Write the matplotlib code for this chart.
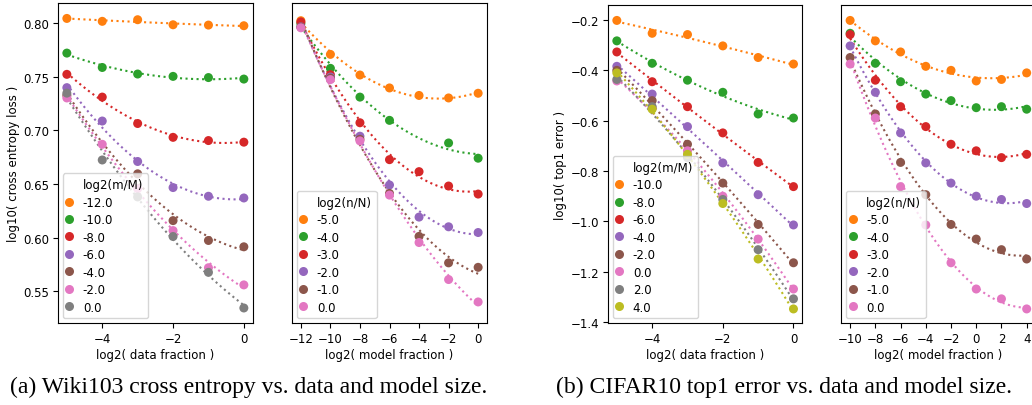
import numpy as np
import matplotlib
matplotlib.use("Agg")
import matplotlib.pyplot as plt
from matplotlib.lines import Line2D

# ---------------- data ----------------
# Wiki103: rows = log2(m/M) model fraction, cols = log2(n/N) data fraction
wiki_model = [-12, -10, -8, -6, -4, -2, 0]
wiki_data = [-5, -4, -3, -2, -1, 0]
wiki_loss = np.array([
    [0.8043, 0.8016, 0.8031, 0.7984, 0.7981, 0.7975],
    [0.7720, 0.7586, 0.7525, 0.7503, 0.7492, 0.7478],
    [0.7522, 0.7310, 0.7064, 0.6935, 0.6905, 0.6890],
    [0.7398, 0.7087, 0.6710, 0.6467, 0.6386, 0.6370],
    [0.7326, np.nan, 0.6595, 0.6159, 0.5974, 0.5915],
    [0.7302, 0.6870, 0.6457, 0.6066, 0.5720, 0.5560],
    [0.7347, 0.6724, 0.6380, 0.6011, 0.5677, 0.5345],
])

# CIFAR10: rows = log2(m/M) model fraction, cols = log2(n/N) data fraction
cifar_model = [-10, -8, -6, -4, -2, 0, 2, 4]
cifar_data = [-5, -4, -3, -2, -1, 0]
cifar_err = np.array([
    [-0.203, -0.254, -0.259, -0.304, -0.350, -0.376],
    [-0.284, -0.373, -0.440, -0.488, -0.574, -0.590],
    [-0.328, -0.446, -0.545, -0.649, -0.766, -0.862],
    [-0.385, -0.495, -0.624, -0.768, -0.894, -1.014],
    [-0.401, -0.521, -0.694, -0.848, -1.012, -1.164],
    [-0.443, -0.549, -0.720, -0.900, -1.070, -1.268],
    [-0.437, -0.545, -0.747, -0.913, -1.112, -1.307],
    [-0.411, -0.555, -0.734, -0.929, -1.149, -1.347],
])

colors = ["#ff7f0e", "#2ca02c", "#d62728", "#9467bd", "#8c564b",
          "#e377c2", "#7f7f7f", "#bcbd22"]

plt.rcParams['font.family'] = ['DejaVu Sans']
FS = 8.5

W, H = 1032, 406
fig = plt.figure(figsize=(W / 100, H / 100), dpi=100)


def ax_at(l, r, t, b):
    return fig.add_axes([l / W, (H - b) / H, (r - l) / W, (b - t) / H])


ax1 = ax_at(58, 252.7, 4.3, 324)
ax2 = ax_at(292, 487, 4.3, 324)
ax3 = ax_at(608, 802.3, 6.3, 324)
ax4 = ax_at(841.3, 1035.5, 6.3, 324)


def draw(ax, xs, series, levels, title):
    handles = [Line2D([], [], color='none', linestyle='-')]
    labels = [title]
    for i, (lvl, ys) in enumerate(zip(levels, series)):
        c = colors[i]
        xs_a = np.asarray(xs, float)
        ys_a = np.asarray(ys, float)
        ok = ~np.isnan(ys_a)
        coef = np.polyfit(xs_a[ok], ys_a[ok], 2)
        xf = np.linspace(xs_a.min(), xs_a.max(), 100)
        ax.plot(xf, np.polyval(coef, xf), linestyle=':', color=c, lw=1.5, zorder=2)
        ax.scatter(xs_a[ok], ys_a[ok], s=42, color=c, edgecolor='none', zorder=3)
        handles.append(Line2D([], [], linestyle='none', marker='o', color=c,
                              markersize=6.5, markeredgewidth=0))
        labels.append(f"{float(lvl):.1f}")
    ax.legend(handles, labels, loc='lower left', fontsize=FS,
              handletextpad=1.0, borderpad=0.4, labelspacing=0.38,
              handlelength=0.3, framealpha=0.8, edgecolor='#cccccc',
              fancybox=True, borderaxespad=0.4)
    ax.tick_params(labelsize=FS, pad=3)


# Panel 1: loss vs data, hue = model
draw(ax1, wiki_data, [wiki_loss[i, :] for i in range(len(wiki_model))],
     wiki_model, "log2(m/M)")
ax1.set_xlim(-5.25, 0.25)
ax1.set_ylim(0.5205, 0.8184)
ax1.set_yticks([0.55, 0.60, 0.65, 0.70, 0.75, 0.80])
ax1.set_xticks([-4, -2, 0])
ax1.set_xlabel("log2( data fraction )", fontsize=FS, labelpad=2)
ax1.set_ylabel("log10( cross entropy loss )", fontsize=FS, labelpad=2)

# Panel 2: loss vs model, hue = data
draw(ax2, wiki_model, [wiki_loss[:, j] for j in range(len(wiki_data))],
     wiki_data, "log2(n/N)")
ax2.set_xlim(-12.6, 0.6)
ax2.set_ylim(0.5143, 0.8210)
ax2.set_yticks([])
ax2.set_xticks([-12, -10, -8, -6, -4, -2, 0])
ax2.set_xlabel("log2( model fraction )", fontsize=FS, labelpad=2)

# Panel 3: error vs data, hue = model
draw(ax3, cifar_data, [cifar_err[i, :] for i in range(len(cifar_model))],
     cifar_model, "log2(m/M)")
ax3.set_xlim(-5.25, 0.25)
ax3.set_ylim(-1.4028, -0.143)
ax3.set_yticks([-1.4, -1.2, -1.0, -0.8, -0.6, -0.4, -0.2])
ax3.set_xticks([-4, -2, 0])
ax3.set_xlabel("log2( data fraction )", fontsize=FS, labelpad=2)
ax3.set_ylabel("log10( top1 error )", fontsize=FS, labelpad=2.5)

# Panel 4: error vs model, hue = data
draw(ax4, cifar_model, [cifar_err[:, j] for j in range(len(cifar_data))],
     cifar_data, "log2(n/N)")
ax4.set_xlim(-10.7, 4.7)
ax4.set_ylim(-1.4028, -0.143)
ax4.set_yticks([])
ax4.set_xticks([-10, -8, -6, -4, -2, 0, 2, 4])
ax4.set_xlabel("log2( model fraction )", fontsize=FS, labelpad=2)

fig.text(249 / W, 13 / H, "(a) Wiki103 cross entropy vs. data and model size.",
         ha='center', va='baseline', fontsize=17, family='Liberation Serif')
fig.text(784 / W, 13 / H, "(b) CIFAR10 top1 error vs. data and model size.",
         ha='center', va='baseline', fontsize=17, family='Liberation Serif')

fig.savefig("out.png", dpi=100)
